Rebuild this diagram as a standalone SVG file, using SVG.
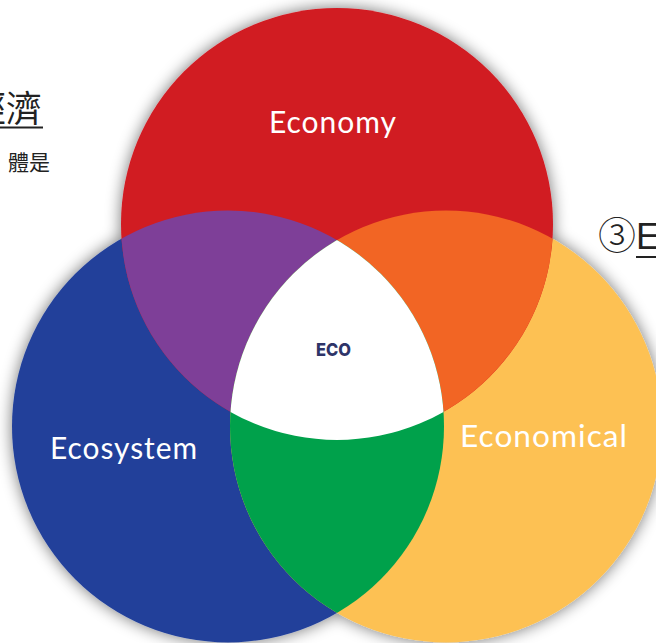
<svg xmlns="http://www.w3.org/2000/svg" width="656" height="643" viewBox="0 0 656 643">
<style>
.lbl{font-family:Lato,"Open Sans","Liberation Sans",sans-serif;font-size:31px;font-weight:400;fill:#ffffff;letter-spacing:1px}
.eco{font-family:Inter,"Open Sans","Liberation Sans",sans-serif;font-size:18px;font-weight:800;fill:#2e3468}
.cjk{font-family:"Noto Sans CJK TC","Noto Sans CJK SC",sans-serif;fill:#222}
</style>
<defs>
<filter id="sh" x="-20%" y="-20%" width="140%" height="140%">
<feGaussianBlur in="SourceAlpha" stdDeviation="8"/>
<feComponentTransfer><feFuncA type="linear" slope="0.55"/></feComponentTransfer>
<feMerge><feMergeNode/><feMergeNode in="SourceGraphic"/></feMerge>
</filter>
<clipPath id="cL"><circle cx="228" cy="426.5" r="216"/></clipPath>
<clipPath id="cR"><circle cx="446" cy="426.5" r="216"/></clipPath>
</defs>
<rect width="656" height="643" fill="#ffffff"/>
<g id="background-text">
<text class="cjk" x="42" y="122" font-size="36" text-anchor="end">經濟</text>
<line x1="0" y1="127.5" x2="43" y2="127.5" stroke="#222" stroke-width="2"/>
<text class="cjk" x="50" y="170" font-size="21" text-anchor="end" fill="#333">體是</text>
</g>
<g filter="url(#sh)">
<g id="ecosystem"><circle cx="228" cy="426.5" r="216" fill="#22409a"/></g>
<g id="economical"><circle cx="446" cy="426.5" r="216" fill="#fdc152"/></g>
<g id="economy"><circle cx="337" cy="224" r="216" fill="#d11a22"/></g>
</g>
<g id="overlaps">
<circle cx="337" cy="224" r="216" fill="#7e3f98" clip-path="url(#cL)"/>
<circle cx="337" cy="224" r="216" fill="#f26524" clip-path="url(#cR)"/>
<circle cx="228" cy="426.5" r="216" fill="#00a14b" clip-path="url(#cR)"/>
<g clip-path="url(#cR)"><circle cx="337" cy="224" r="216" fill="#ffffff" clip-path="url(#cL)"/></g>
</g>
<g id="labels">
<text class="lbl" x="269" y="133" textLength="128" lengthAdjust="spacingAndGlyphs">Economy</text>
<text class="lbl" x="50" y="459" textLength="148" lengthAdjust="spacingAndGlyphs">Ecosystem</text>
<text class="lbl" x="460" y="447" textLength="168" lengthAdjust="spacingAndGlyphs">Economical</text>
<text class="eco" x="316" y="355.5" textLength="35" lengthAdjust="spacingAndGlyphs">ECO</text>
</g>
<g id="connectors"></g>
<g id="side-text">
<text class="cjk" x="598" y="249" font-size="38" font-weight="300">③</text>
<text x="636" y="249" font-family="'Liberation Sans',sans-serif" font-size="36" fill="#222">E</text>
<line x1="636" y1="257" x2="656" y2="257" stroke="#222" stroke-width="2"/>
</g>
</svg>
